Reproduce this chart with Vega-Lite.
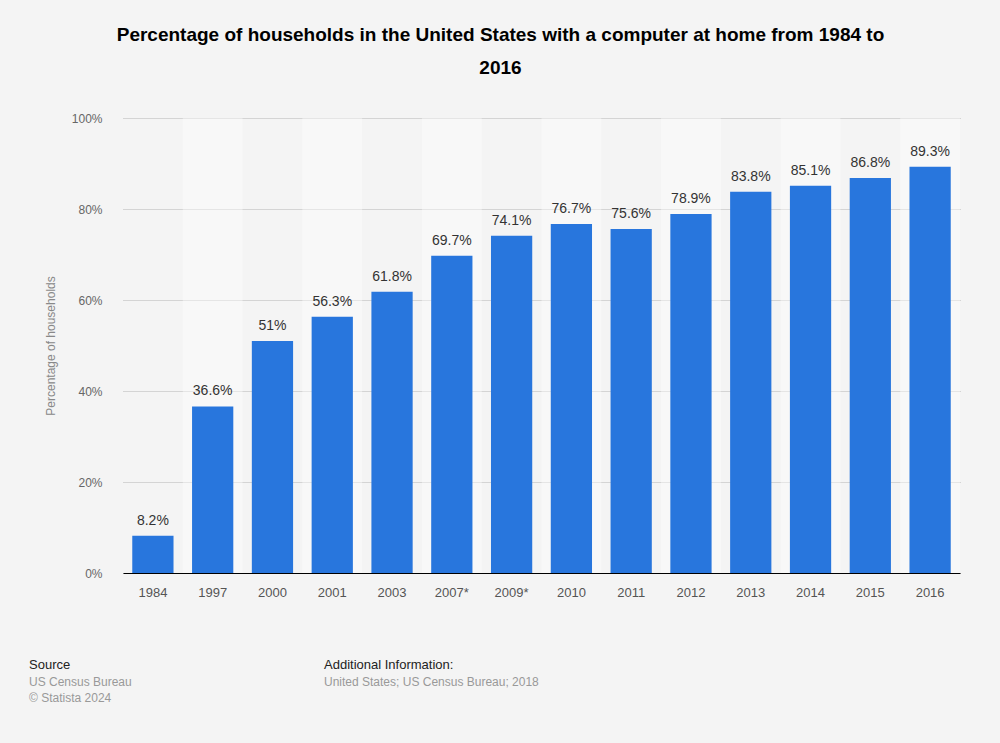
{
  "$schema": "https://vega.github.io/schema/vega-lite/v6.json",
  "autosize": {"type": "none"},
  "padding": {"left": 123, "top": 118, "right": 40, "bottom": 170},
  "width": 837,
  "height": 455,
  "background": "#f4f4f4",
  "title": {
    "text": ["Percentage of households in the United States with a computer at home from 1984 to", "2016"],
    "font": "Liberation Sans",
    "fontSize": 19,
    "fontWeight": "bold",
    "color": "#000000",
    "lineHeight": 33,
    "anchor": "middle",
    "dx": -41,
    "offset": 34
  },
  "config": {
    "view": {"stroke": null},
    "font": "Liberation Sans"
  },
  "layer": [
    {
      "data": {
        "values": [
          {"year": "1984", "value": 8.2},
          {"year": "1997", "value": 36.6},
          {"year": "2000", "value": 51},
          {"year": "2001", "value": 56.3},
          {"year": "2003", "value": 61.8},
          {"year": "2007*", "value": 69.7},
          {"year": "2009*", "value": 74.1},
          {"year": "2010", "value": 76.7},
          {"year": "2011", "value": 75.6},
          {"year": "2012", "value": 78.9},
          {"year": "2013", "value": 83.8},
          {"year": "2014", "value": 85.1},
          {"year": "2015", "value": 86.8},
          {"year": "2016", "value": 89.3}
        ]
      },
      "encoding": {
        "x": {
          "field": "year",
          "type": "nominal",
          "sort": null,
          "scale": {"paddingInner": 0, "paddingOuter": 0},
          "axis": {
            "title": null,
            "labelAngle": 0,
            "labelFontSize": 13,
            "labelColor": "#555555",
            "labelPadding": 13,
            "ticks": false,
            "domainColor": "#000000",
            "domainWidth": 1.2,
            "grid": false,
            "zindex": 1
          }
        }
      },
      "layer": [
        {
          "transform": [{"window": [{"op": "row_number", "as": "idx"}]}],
          "mark": {"type": "bar", "width": {"band": 1}, "opacity": 0.4},
          "encoding": {
            "y": {
              "datum": 100,
              "type": "quantitative",
              "scale": {"domain": [0, 100], "nice": false},
              "axis": {
                "values": [0, 20, 40, 60, 80, 100],
                "labelExpr": "datum.value + '%'",
                "labelFontSize": 12,
                "labelColor": "#666666",
                "labelPadding": 21,
                "ticks": false,
                "domain": false,
                "grid": true,
                "gridColor": "#b4b4b4",
                "gridOpacity": 1,
                "gridDash": [1, 1],
                "gridWidth": 1,
                "title": "Percentage of households",
                "titleFontSize": 12,
                "titleFontWeight": "normal",
                "titleColor": "#888888",
                "titlePadding": 14
              }
            },
            "fill": {
              "condition": {"test": "datum.idx % 2 == 0", "value": "#ffffff"},
              "value": "transparent"
            }
          }
        },
        {
          "mark": {"type": "bar", "width": {"band": 0.69}, "color": "#2876dd"},
          "encoding": {
            "y": {"field": "value", "type": "quantitative"}
          }
        },
        {
          "transform": [{"calculate": "format(datum.value, '.1~f') + '%'", "as": "label"}],
          "mark": {"type": "text", "baseline": "bottom", "dy": -8, "fontSize": 14, "color": "#333333"},
          "encoding": {
            "y": {"field": "value", "type": "quantitative"},
            "text": {"field": "label"}
          }
        }
      ]
    },
    {
      "data": {"values": [{}]},
      "mark": {"type": "text", "text": "Source", "align": "left", "baseline": "middle", "fontSize": 13, "color": "#222222"},
      "encoding": {"x": {"value": -94}, "y": {"value": 547}}
    },
    {
      "data": {"values": [{}]},
      "mark": {"type": "text", "text": "US Census Bureau", "align": "left", "baseline": "middle", "fontSize": 12, "color": "#999999"},
      "encoding": {"x": {"value": -94}, "y": {"value": 564}}
    },
    {
      "data": {"values": [{}]},
      "mark": {"type": "text", "text": "© Statista 2024", "align": "left", "baseline": "middle", "fontSize": 12, "color": "#999999"},
      "encoding": {"x": {"value": -94}, "y": {"value": 580}}
    },
    {
      "data": {"values": [{}]},
      "mark": {"type": "text", "text": "Additional Information:", "align": "left", "baseline": "middle", "fontSize": 13, "color": "#222222"},
      "encoding": {"x": {"value": 201}, "y": {"value": 547}}
    },
    {
      "data": {"values": [{}]},
      "mark": {"type": "text", "text": "United States; US Census Bureau; 2018", "align": "left", "baseline": "middle", "fontSize": 12, "color": "#999999"},
      "encoding": {"x": {"value": 201}, "y": {"value": 564}}
    }
  ]
}
